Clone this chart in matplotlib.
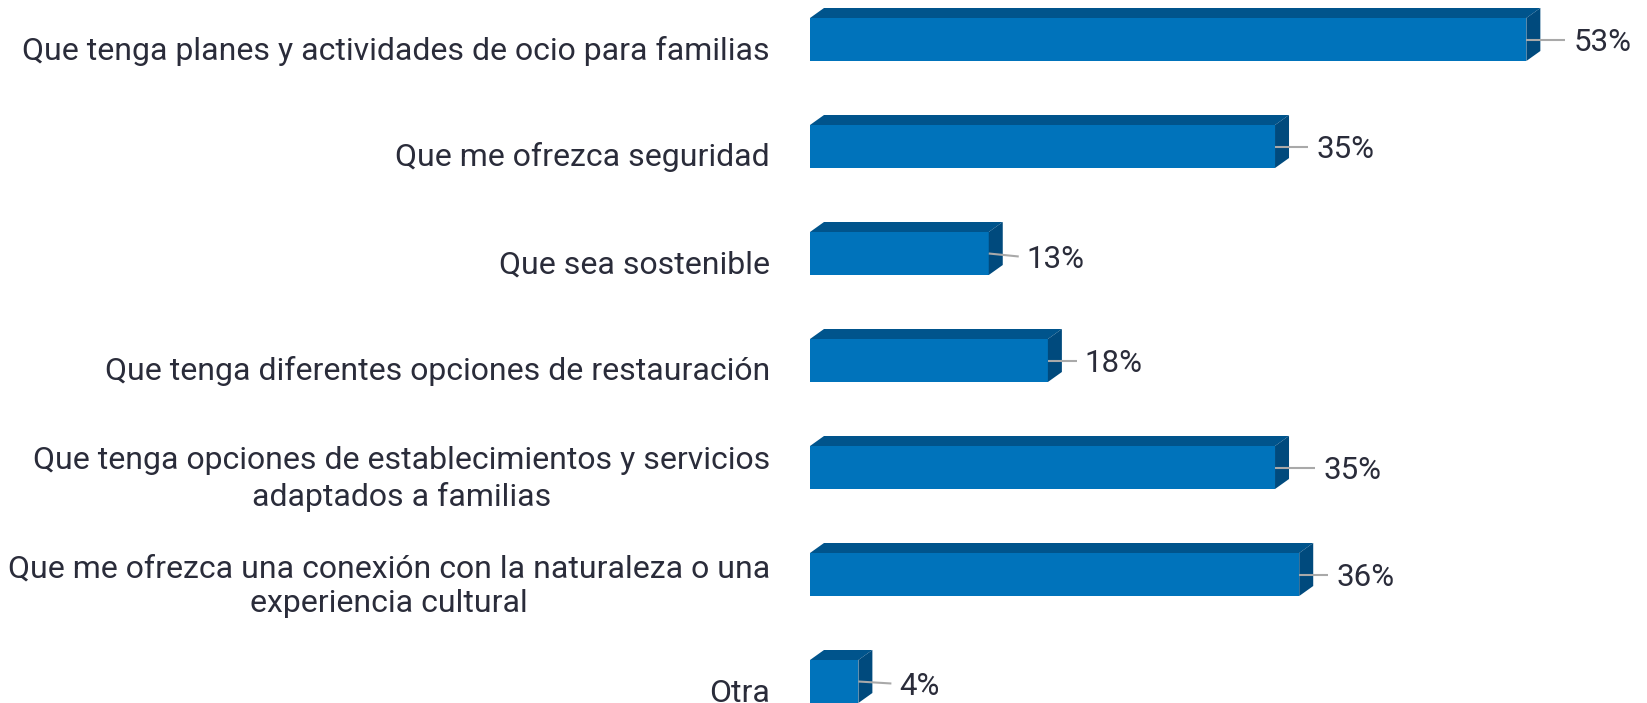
import matplotlib

matplotlib.use("Agg")
import matplotlib.pyplot as plt
from matplotlib.patches import Polygon

plt.rcParams["font.family"] = ["Roboto", "DejaVu Sans"]

categories = [
    "Que tenga planes y actividades de ocio para familias",
    "Que me ofrezca seguridad",
    "Que sea sostenible",
    "Que tenga diferentes opciones de restauración",
    "Que tenga opciones de establecimientos y servicios\nadaptados a familias",
    "Que me ofrezca una conexión con la naturaleza o una\nexperiencia cultural",
    "Otra",
]
values = [53.3, 34.6, 13.3, 17.7, 34.6, 36.4, 3.6]

# label placement (pixels): leader length from the bar front, and end drop
leader_len = [39, 33, 30, 29, 40, 29, 33]
leader_drop = [0, 0, 3, 0, 0, 0, 2]

FRONT = "#0073bb"
TOP = "#00548c"
SIDE = "#004a7d"
TEXT = "#2a2c3a"
LEADER = "#a9a9a9"

# pixel geometry of the reference (1647 x 703)
W, H = 1647, 703
X0 = 810          # pixel where 0% sits
PX_PER_PCT = 13.44
ROW = 107         # pixels between bars
Y_FIRST = 39.5    # centre of the first bar, from the top

fig = plt.figure(figsize=(W / 100, H / 100), dpi=100)
fig.patch.set_facecolor("#ffffff")
ax = fig.add_axes([0, 0, 1, 1])
ax.set_xlim(-X0 / PX_PER_PCT, (W - X0) / PX_PER_PCT)
ax.set_ylim((H - Y_FIRST) / ROW, -Y_FIRST / ROW)
ax.axis("off")

h = 43 / ROW
dx = 14 / PX_PER_PCT
dy = 10 / ROW
px_y = 1 / ROW
px_x = 1 / PX_PER_PCT

ypos = list(range(len(categories)))
ax.barh(ypos, values, height=h, color=FRONT, zorder=2)

for y, v, label, ll, ld in zip(ypos, values, categories, leader_len, leader_drop):
    top = y - h / 2
    bot = y + h / 2
    ax.add_patch(Polygon([(0, top), (v, top), (v + dx, top - dy), (dx, top - dy)],
                         closed=True, facecolor=TOP, edgecolor="none", zorder=2))
    ax.add_patch(Polygon([(v, top), (v + dx, top - dy), (v + dx, bot - dy), (v, bot)],
                         closed=True, facecolor=SIDE, edgecolor="none", zorder=2))
    ax.plot([v, v + ll * px_x], [y, y + ld * px_y], color=LEADER, lw=1.5, zorder=3,
            solid_capstyle="butt")
    ax.text(v + (ll + 8) * px_x, y + (11.5 + ld) * px_y, f"{v:.0f}%", ha="left",
            va="baseline", fontsize=22.5, color=TEXT)

    # baseline of the last line sits below the bar centre
    nlines = label.count("\n") + 1
    ax.text(-40 * px_x, y + (20 + 18 * (nlines - 1)) * px_y, label, ha="right",
            va="baseline", multialignment="center", linespacing=1.27,
            fontsize=23, color=TEXT)

fig.savefig("out.png", dpi=100, facecolor=fig.get_facecolor())
plt.close(fig)
